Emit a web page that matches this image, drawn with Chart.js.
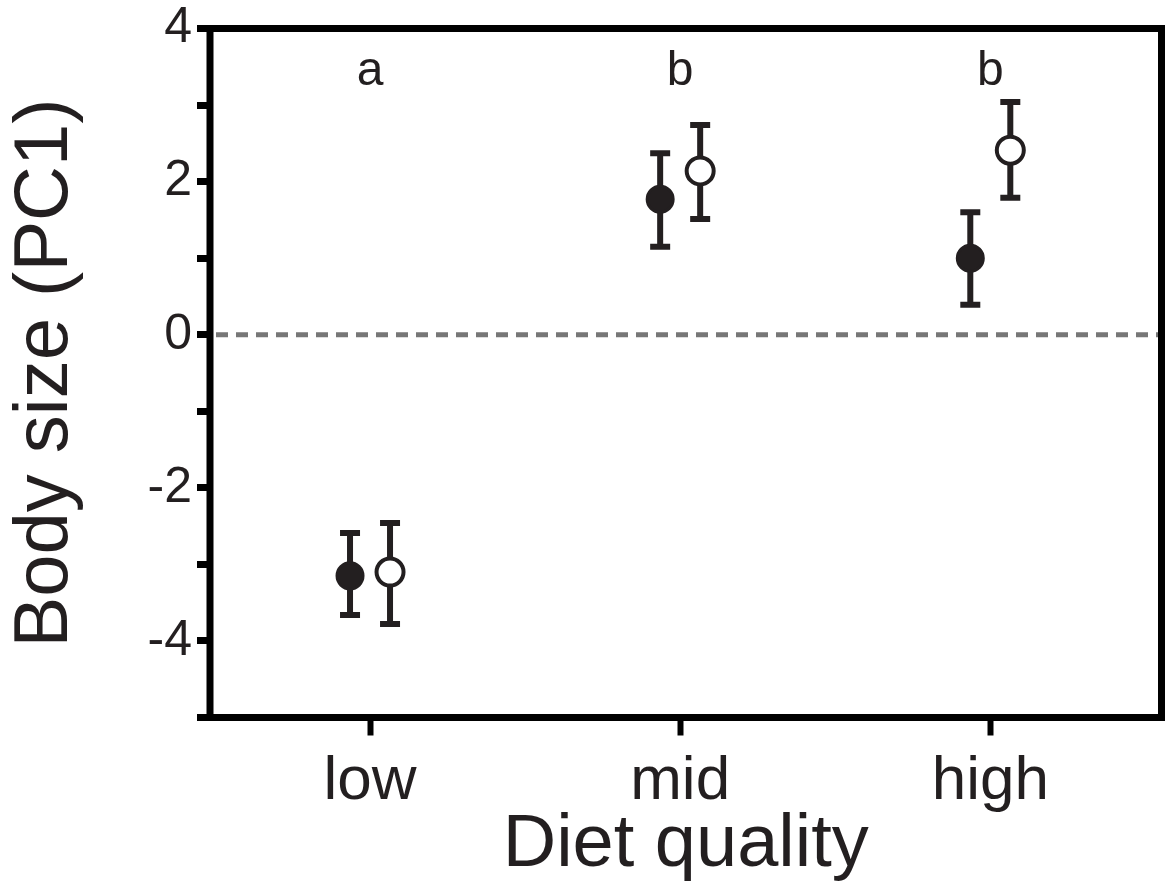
<!DOCTYPE html>
<html>
<head>
<meta charset="utf-8">
<script src="https://cdn.jsdelivr.net/npm/chart.js@4.4.1/dist/chart.umd.min.js"></script>
<style>
  html, body { margin: 0; padding: 0; background: #fff; }
  #wrap { width: 1165px; height: 894px; }
</style>
</head>
<body>
<div id="wrap"><canvas id="chart" width="1165" height="894"></canvas></div>
<script>
// Data
const categories = ['low', 'mid', 'high'];
const groupLetters = ['a', 'b', 'b'];
const filledMean = [-3.15, 1.77, 1.00];
const filledUpper = [-2.59, 2.37, 1.60];
const filledLower = [-3.66, 1.15, 0.39];
const openMean = [-3.10, 2.14, 2.41];
const openUpper = [-2.46, 2.74, 3.04];
const openLower = [-3.78, 1.51, 1.79];
const yTickValues = [-5, -4, -3, -2, -1, 0, 1, 2, 3, 4];
const yTickLabels = ['', '-4', '', '-2', '', '0', '', '2', '', '4'];

const ink = '#231f20';
const font = "'Liberation Sans', Arial, sans-serif";
const dodge = 0.0645;

const filledPts = categories.map((c, i) => ({ x: i + 1 - dodge, y: filledMean[i] }));
const openPts = categories.map((c, i) => ({ x: i + 1 + dodge, y: openMean[i] }));

// error bars, zero line, letters, frame
const extras = {
    id: 'extras',
    beforeDatasetsDraw(chart) {
        const ctx = chart.ctx;
        const a = chart.chartArea;
        const ys = chart.scales.y;
        // dashed zero line
        ctx.save();
        ctx.strokeStyle = '#777';
        ctx.lineWidth = 5;
        ctx.setLineDash([12, 8]);
        ctx.beginPath();
        ctx.moveTo(a.left + 6, ys.getPixelForValue(0));
        ctx.lineTo(a.right, ys.getPixelForValue(0));
        ctx.stroke();
        ctx.restore();

        const bars = [[filledUpper, filledLower], [openUpper, openLower]];
        ctx.save();
        ctx.strokeStyle = ink;
        ctx.lineWidth = 6;
        bars.forEach((b, d) => {
            chart.getDatasetMeta(d).data.forEach((pt, i) => {
                const top = ys.getPixelForValue(b[0][i]);
                const bot = ys.getPixelForValue(b[1][i]);
                ctx.beginPath();
                ctx.moveTo(pt.x, top); ctx.lineTo(pt.x, bot);
                ctx.moveTo(pt.x - 10, top); ctx.lineTo(pt.x + 10, top);
                ctx.moveTo(pt.x - 10, bot); ctx.lineTo(pt.x + 10, bot);
                ctx.stroke();
            });
        });
        ctx.restore();
    },
    afterDatasetsDraw(chart) {
        const ctx = chart.ctx;
        const a = chart.chartArea;
        const xs = chart.scales.x;
        const ys = chart.scales.y;
        ctx.save();
        ctx.fillStyle = ink;
        ctx.font = '48px ' + font;
        ctx.textAlign = 'center';
        ctx.textBaseline = 'alphabetic';
        groupLetters.forEach((l, i) => {
            ctx.fillText(l, xs.getPixelForValue(i + 1), ys.getPixelForValue(3.26));
        });
        ctx.strokeStyle = '#000';
        ctx.lineWidth = 7;
        ctx.strokeRect(a.left, a.top, a.right - a.left, a.bottom - a.top);
        ctx.restore();
    }
};

new Chart(document.getElementById('chart'), {
    type: 'scatter',
    data: {
        datasets: [
            { label: 'filled', data: filledPts, pointRadius: 13, pointHoverRadius: 13,
              backgroundColor: ink, borderColor: ink, borderWidth: 3 },
            { label: 'open', data: openPts, pointRadius: 13.5, pointHoverRadius: 13.5,
              backgroundColor: '#fff', borderColor: ink, borderWidth: 4 }
        ]
    },
    options: {
        responsive: false,
        animation: false,
        layout: { autoPadding: false, padding: { top: 28.5, right: 3.5, left: 0, bottom: 0 } },
        plugins: { legend: { display: false }, tooltip: { enabled: false } },
        scales: {
            x: {
                type: 'linear',
                min: 0.484,
                max: 3.552,
                afterBuildTicks: s => { s.ticks = categories.map((c, i) => ({ value: i + 1 })); },
                afterFit: s => { s.height = 176.5; s.paddingLeft = 0; s.paddingRight = 0; },
                border: { display: false },
                grid: { drawOnChartArea: false, drawTicks: true, tickLength: 18, tickWidth: 6, color: '#000' },
                ticks: {
                    color: ink, font: { family: font, size: 62 }, padding: 9, maxRotation: 0,
                    callback: v => categories[v - 1]
                },
                title: {
                    display: true, text: 'Diet quality', color: ink,
                    font: { family: font, size: 74 }, padding: { top: 0, bottom: 4 }
                }
            },
            y: {
                min: -5,
                max: 4,
                afterBuildTicks: s => { s.ticks = yTickValues.map(v => ({ value: v })); },
                afterFit: s => { s.width = 210; s.paddingTop = 0; s.paddingBottom = 0; },
                border: { display: false },
                grid: { drawOnChartArea: false, drawTicks: true, tickLength: 13, tickWidth: 7, color: '#000' },
                ticks: {
                    color: ink, font: { family: font, size: 50 }, padding: 5,
                    callback: v => yTickLabels[yTickValues.indexOf(v)]
                },
                title: {
                    display: true, text: 'Body size (PC1)', color: ink,
                    font: { family: font, size: 76 }, padding: { top: 0, bottom: 0 }
                }
            }
        }
    },
    plugins: [extras]
});
</script>
</body>
</html>
